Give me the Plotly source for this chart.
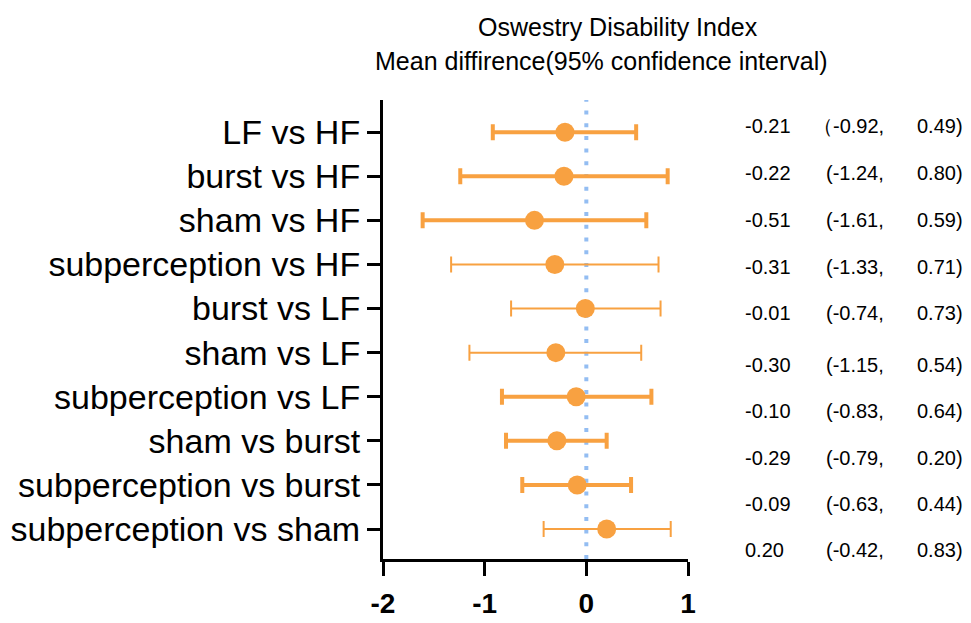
import plotly.graph_objects as go

# Pairwise comparisons (top to bottom)
comparisons = [
    "LF vs HF",
    "burst vs HF",
    "sham vs HF",
    "subperception vs HF",
    "burst vs LF",
    "sham vs LF",
    "subperception vs LF",
    "sham vs burst",
    "subperception vs burst",
    "subperception vs sham",
]
mean_diff = [-0.21, -0.22, -0.51, -0.31, -0.01, -0.30, -0.10, -0.29, -0.09, 0.20]
ci_low = [-0.92, -1.24, -1.61, -1.33, -0.74, -1.15, -0.83, -0.79, -0.63, -0.42]
ci_high = [0.49, 0.80, 0.59, 0.71, 0.73, 0.54, 0.64, 0.20, 0.44, 0.83]
open_paren = ["（", "(", "(", "(", "(", "(", "(", "(", "(", "("]
x_ticks = [-2, -1, 0, 1]

# Line weight of each interval (heavy / light)
heavy = [True, True, True, False, False, False, True, True, True, False]

W, H = 971, 623
ML, MR, MT, MB = 383, 283, 100, 64
PW, PH = W - ML - MR, H - MT - MB
FONT = "Liberation Sans, Arial, sans-serif"
ORANGE = "#F8A141"


def px_x(px):
    return (px - ML) / PW


def px_y(py):
    return 1 - (py - MT) / PH


fig = go.Figure()

for is_heavy, thick in [(True, 4), (False, 2)]:
    idx = [i for i, h in enumerate(heavy) if h == is_heavy]
    fig.add_trace(go.Scatter(
        x=[mean_diff[i] for i in idx],
        y=[comparisons[i] for i in idx],
        mode="markers",
        marker=dict(color=ORANGE, size=19, line=dict(width=0)),
        error_x=dict(
            type="data", symmetric=False,
            array=[ci_high[i] - mean_diff[i] for i in idx],
            arrayminus=[mean_diff[i] - ci_low[i] for i in idx],
            color=ORANGE, thickness=thick, width=8,
        ),
        showlegend=False,
        hoverinfo="skip",
    ))

# Reference line at zero difference
fig.add_shape(type="line", xref="x", yref="paper", x0=0, x1=0, y0=0, y1=1,
              line=dict(color="#93BDF2", width=4, dash="4px,8.7px"), layer="below")

# Numeric column: mean difference and 95% CI
row_text_y = [126, 173, 220, 267, 313, 365, 411, 457.5, 504, 550]
for i in range(len(comparisons)):
    yy = px_y(row_text_y[i])
    fig.add_annotation(x=px_x(743), y=yy, xref="paper", yref="paper",
                       text=f"{mean_diff[i]:.2f}", showarrow=False,
                       xanchor="left", yanchor="middle",
                       font=dict(family=FONT, size=20, color="black"))
    fig.add_annotation(x=px_x(886), y=yy, xref="paper", yref="paper",
                       text=f"{open_paren[i]}{ci_low[i]:.2f},", showarrow=False,
                       xanchor="right", yanchor="middle",
                       font=dict(family=FONT, size=20, color="black"))
    fig.add_annotation(x=px_x(965), y=yy, xref="paper", yref="paper",
                       text=f"{ci_high[i]:.2f})", showarrow=False,
                       xanchor="right", yanchor="middle",
                       font=dict(family=FONT, size=20, color="black"))

# Column heading
fig.add_annotation(x=px_x(618), y=px_y(27), xref="paper", yref="paper",
                   text="Oswestry Disability Index", showarrow=False,
                   xanchor="center", yanchor="middle",
                   font=dict(family=FONT, size=25, color="black"))
fig.add_annotation(x=px_x(601), y=px_y(61), xref="paper", yref="paper",
                   text="Mean diffirence(95% confidence interval)", showarrow=False,
                   xanchor="center", yanchor="middle",
                   font=dict(family=FONT, size=25, color="black"))

fig.update_layout(
    width=W, height=H,
    margin=dict(l=ML, r=MR, t=MT, b=MB, pad=0),
    paper_bgcolor="white", plot_bgcolor="white",
    font=dict(family=FONT, color="black"),
    xaxis=dict(
        range=[-2, 1], tickvals=x_ticks, ticktext=[str(v) for v in x_ticks],
        showgrid=False, zeroline=False, automargin=False,
        showline=True, linecolor="black", linewidth=3,
        ticks="outside", ticklen=14, tickwidth=3, tickcolor="black",
        tickfont=dict(family=FONT, size=28, color="black", weight="bold"),
        ticklabelstandoff=3,
    ),
    yaxis=dict(
        type="category", categoryorder="array", categoryarray=comparisons,
        range=[9.68, -0.73], automargin=False,
        showgrid=False, zeroline=False,
        showline=True, linecolor="black", linewidth=3,
        ticks="outside", ticklen=13, tickwidth=3, tickcolor="black",
        tickfont=dict(family=FONT, size=34, color="black"),
    ),
)

fig.write_html("out.html")
